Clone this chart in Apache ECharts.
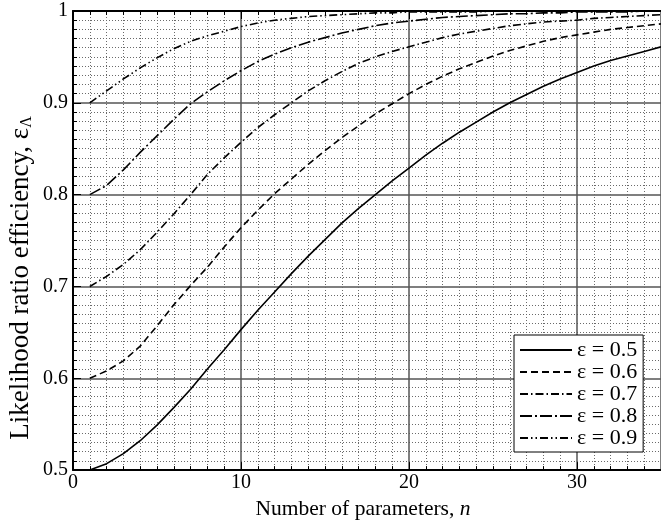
<!DOCTYPE html>
<html>
<head>
<meta charset="utf-8">
<script src="https://cdn.jsdelivr.net/npm/echarts@6/dist/echarts.min.js"></script>
<style>
html,body{margin:0;padding:0;background:#fff;}
#chart{width:661px;height:525px;}
</style>
</head>
<body>
<div id="chart"></div>
<script>
// number of parameters n
var nParams = [1,2,3,4,5,6,7,8,9,10,11,12,13,14,15,16,17,18,19,20,21,22,23,24,25,26,27,28,29,30,31,32,33,34,35];
// likelihood ratio efficiency, one list per epsilon
var eff05 = [0.500,0.507,0.518,0.532,0.549,0.568,0.588,0.610,0.631,0.653,0.674,0.694,0.714,0.733,0.751,0.769,0.785,0.800,0.815,0.829,0.843,0.856,0.868,0.879,0.890,0.900,0.909,0.918,0.926,0.933,0.940,0.946,0.951,0.956,0.961];
var eff06 = [0.600,0.608,0.619,0.635,0.657,0.680,0.701,0.721,0.743,0.764,0.783,0.801,0.817,0.833,0.848,0.862,0.875,0.888,0.899,0.910,0.920,0.929,0.937,0.944,0.951,0.957,0.962,0.967,0.971,0.974,0.977,0.980,0.982,0.984,0.986];
var eff07 = [0.700,0.711,0.724,0.740,0.759,0.779,0.800,0.822,0.840,0.857,0.873,0.887,0.900,0.913,0.924,0.934,0.943,0.950,0.956,0.961,0.966,0.971,0.975,0.978,0.981,0.984,0.986,0.988,0.989,0.990,0.992,0.993,0.994,0.995,0.996];
var eff08 = [0.800,0.810,0.827,0.846,0.864,0.882,0.899,0.912,0.924,0.935,0.945,0.953,0.960,0.966,0.971,0.976,0.980,0.984,0.987,0.989,0.991,0.993,0.994,0.995,0.996,0.997,0.997,0.998,0.998,0.999,0.999,0.999,0.999,1.000,1.000];
var eff09 = [0.900,0.913,0.926,0.938,0.949,0.959,0.967,0.973,0.978,0.983,0.987,0.990,0.992,0.994,0.995,0.996,0.997,0.998,0.998,0.999,0.999,0.999,0.999,0.999,1.000,1.000,1.000,1.000,1.000,1.000,1.000,1.000,1.000,1.000,1.000];
var seriesNames = ['ε = 0.5','ε = 0.6','ε = 0.7','ε = 0.8','ε = 0.9'];

var serif = 'Liberation Serif';

function pairs(vals){
    var out = [];
    for(var i=0;i<nParams.length;i++){
        out.push([nParams[i], vals[i]]);
    }
    return out;
}

// dash patterns for each curve
var dashes = ['solid',[7,4],[8,3,1.5,3],[12,3,2,3],[8,3,1.5,3,1.5,3]];
var allData = [eff05,eff06,eff07,eff08,eff09];

var series = [];
for(var k=0;k<allData.length;k++){
    series.push({
        name: seriesNames[k],
        type: 'line',
        data: pairs(allData[k]),
        symbol: 'none',
        smooth: false,
        lineStyle: {color:'#000', width:1.6, type:dashes[k]},
        itemStyle: {color:'#000'},
        z: 5
    });
}

var myChart = echarts.init(document.getElementById('chart'));
var option = {
    animation: false,
    backgroundColor: '#fff',
    textStyle: {fontFamily: serif},
    grid: {left:73, top:11, right:-9, bottom:52, show:false},
    legend: {
        orient: 'vertical',
        left: 514,
        top: 335,
        backgroundColor: '#fff',
        borderColor: '#000',
        borderWidth: 1,
        borderRadius: 0,
        padding: [4,6,3,5],
        itemWidth: 52,
        itemHeight: 12,
        itemGap: 0,
        itemStyle: {color:'rgba(0,0,0,0)', borderWidth:0},
        textStyle: {fontFamily:serif, fontSize:22, color:'#000', lineHeight:21},
        data: seriesNames
    },
    // y axis title, placed by hand so it sits where the reference puts it
    graphic: [{
        type: 'text',
        x: 21,
        y: 278,
        rotation: Math.PI/2,
        style: {
            text: 'Likelihood ratio efficiency, ε{s|Λ}',
            fontFamily: serif,
            fontSize: 27,
            fill: '#000',
            align: 'center',
            verticalAlign: 'middle',
            rich: {s:{fontFamily:serif, fontSize:16, fill:'#000', padding:[12,0,0,0]}}
        }
    }],
    xAxis: [
        {
            type: 'value',
            min: 0,
            max: 35,
            interval: 10,
            name: 'Number of parameters, {i|n}',
            nameLocation: 'middle',
            nameGap: 27,
            nameTextStyle: {
                fontFamily: serif, fontSize: 21.5, color:'#000',
                padding: [0,8,0,0],
                rich: {i:{fontFamily:serif, fontSize:21.5, fontStyle:'italic', color:'#000'}}
            },
            axisLine: {show:true, lineStyle:{color:'#000', width:2}},
            axisTick: {show:true, inside:true, length:8, lineStyle:{color:'#000'}},
            minorTick: {show:true, splitNumber:10, length:4, lineStyle:{color:'#000'}},
            axisLabel: {fontFamily:serif, fontSize:20, color:'#000', margin:3, showMaxLabel:false},
            splitLine: {show:true, lineStyle:{color:'#555', width:1.5}},
            minorSplitLine: {show:true, lineStyle:{color:'#6a6a6a', width:1, type:[1,2]}}
        },
        {
            type: 'value',
            position: 'top',
            min: 0,
            max: 35,
            interval: 10,
            axisLine: {show:true, lineStyle:{color:'#000', width:2}},
            axisTick: {show:true, inside:true, length:8, lineStyle:{color:'#000'}},
            minorTick: {show:true, splitNumber:10, length:4, lineStyle:{color:'#000'}},
            axisLabel: {show:false},
            splitLine: {show:false}
        }
    ],
    yAxis: {
        type: 'value',
        min: 0.5,
        max: 1,
        interval: 0.1,
        axisLine: {show:true, lineStyle:{color:'#000', width:2}},
        axisTick: {show:true, inside:true, length:8, lineStyle:{color:'#000'}},
        minorTick: {show:true, splitNumber:10, length:4, lineStyle:{color:'#000'}},
        axisLabel: {fontFamily:serif, fontSize:20, color:'#000', margin:5},
        splitLine: {show:true, lineStyle:{color:'#555', width:1.5}},
        minorSplitLine: {show:true, lineStyle:{color:'#6a6a6a', width:1, type:[1,2]}}
    },
    series: series
};
myChart.setOption(option, true);
</script>
</body>
</html>
